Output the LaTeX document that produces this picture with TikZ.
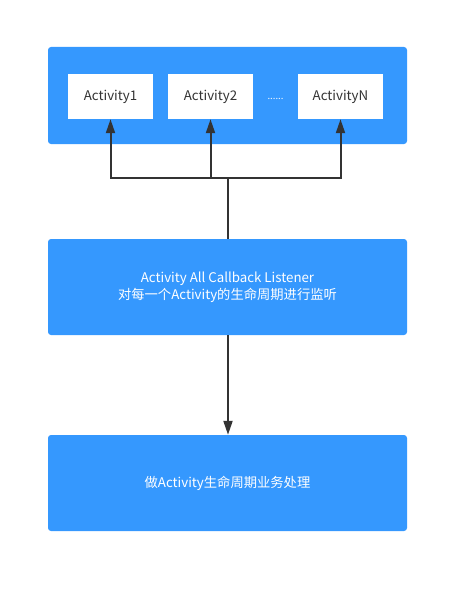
\documentclass[tikz,border=0pt]{standalone}
\usepackage{fontspec}
\setmainfont{Noto Sans CJK SC}
\usepackage{tikz}
\usetikzlibrary{arrows.meta}
\definecolor{boxblue}{HTML}{3598FE}
\definecolor{linegray}{HTML}{333333}

\begin{document}
\begin{tikzpicture}[x=1pt,y=-1pt,font=\fontsize{13.3}{17}\selectfont,
 panel/.style={fill=boxblue,rounded corners=3pt,text=white,align=center,minimum width=359pt,inner sep=0pt},
 act/.style={fill=white,text=linegray,minimum width=85pt,minimum height=45pt,inner sep=0pt},
 wire/.style={draw=linegray,line width=2pt},
 arr/.style={wire,-{Triangle[length=14pt,width=9pt]}}]
\useasboundingbox (0,0) rectangle (469,594);
\node[panel,minimum height=97pt] (top) at (227.5,95.5) {};
\node[act] (a1) at (110.5,96.5) {Activity1};
\node[act] (a2) at (210.5,96.5) {Activity2};
\node[act] (aN) at (340.5,96.5) {ActivityN};
\node[text=white,inner sep=0pt,font=\fontsize{9.5}{10}\selectfont] (dots) at (275.5,99) {......};
\node[panel,minimum height=96pt] (mid) at (227.5,287) {Activity All Callback Listener\\对每一个Activity的生命周期进行监听};
\node[panel,minimum height=96pt] (bot) at (227.5,483) {做Activity生命周期业务处理};
\coordinate (j) at (228,178);
\draw[wire] (mid.north -| j) -- (j);
\draw[arr] (j) -| (a1.south);
\draw[arr] (j) -| (a2.south);
\draw[arr] (j) -| (aN.south);
\draw[arr] (mid.south -| j) -- (bot.north -| j);
\end{tikzpicture}
\end{document}
